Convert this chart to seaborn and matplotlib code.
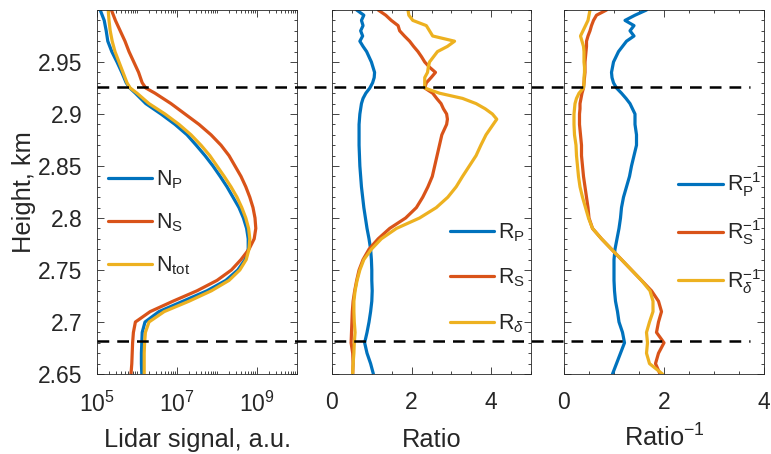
import numpy as np
import pandas as pd
import matplotlib
matplotlib.use("Agg")
import matplotlib.pyplot as plt
import matplotlib.transforms as mtransforms
from matplotlib.lines import Line2D
from matplotlib.ticker import FixedLocator, MultipleLocator, LogLocator, NullFormatter, FuncFormatter
import seaborn as sns

# ---------------- data ----------------
heights_signal = [3.00, 2.99, 2.98, 2.97, 2.96, 2.95, 2.94, 2.93, 2.925, 2.92, 2.91, 2.90,
                  2.89, 2.88, 2.87, 2.86, 2.85, 2.84, 2.83, 2.82, 2.81, 2.80, 2.79, 2.78,
                  2.77, 2.76, 2.75, 2.74, 2.73, 2.72, 2.71, 2.70, 2.69, 2.68, 2.67, 2.66, 2.65]
# log10 of lidar signal (a.u.)
NP_log10 = [5.08, 5.18, 5.23, 5.27, 5.37, 5.50, 5.62, 5.73, 5.82, 5.96, 6.22, 6.60,
            6.95, 7.25, 7.48, 7.70, 7.90, 8.08, 8.25, 8.40, 8.55, 8.66, 8.74, 8.78,
            8.78, 8.70, 8.52, 8.22, 7.75, 7.15, 6.55, 6.20, 6.13, 6.12, 6.11, 6.11, 6.12]
NS_log10 = [5.36, 5.46, 5.58, 5.70, 5.80, 5.92, 6.04, 6.13, 6.22, 6.45, 6.85, 7.20,
            7.55, 7.85, 8.10, 8.30, 8.45, 8.60, 8.72, 8.82, 8.90, 8.95, 8.97, 8.93,
            8.80, 8.60, 8.36, 8.00, 7.50, 6.90, 6.33, 5.96, 5.91, 5.89, 5.88, 5.87, 5.85]
Ntot_log10 = [5.28, 5.30, 5.33, 5.38, 5.45, 5.55, 5.65, 5.75, 5.83, 6.00, 6.30, 6.70,
              7.05, 7.35, 7.60, 7.82, 8.00, 8.18, 8.35, 8.50, 8.62, 8.72, 8.79, 8.82,
              8.80, 8.73, 8.57, 8.30, 7.86, 7.30, 6.68, 6.30, 6.21, 6.19, 6.18, 6.18, 6.18]

heights_ratio = [3.000, 2.995, 2.990, 2.985, 2.980, 2.975, 2.970, 2.965, 2.960, 2.955,
                 2.950, 2.945, 2.940, 2.935, 2.930, 2.925, 2.920, 2.915, 2.910, 2.905,
                 2.900, 2.895, 2.890, 2.88, 2.87, 2.86, 2.85, 2.84, 2.83, 2.82, 2.81,
                 2.80, 2.79, 2.78, 2.77, 2.76, 2.75, 2.74, 2.73, 2.72, 2.71, 2.70, 2.69,
                 2.68, 2.67, 2.66, 2.65]
R_P = [0.62, 0.80, 0.74, 0.78, 0.72, 0.77, 0.70, 0.78, 0.87, 0.93, 0.99, 1.03, 1.07,
       1.06, 1.02, 0.95, 0.85, 0.78, 0.74, 0.72, 0.70, 0.69, 0.68,
       0.68, 0.68, 0.69, 0.70, 0.72, 0.74, 0.77, 0.80, 0.84, 0.88, 0.93, 0.97, 0.99,
       1.00, 1.00, 1.01, 1.00, 0.97, 0.93, 0.88, 0.82, 0.88, 0.97, 1.04]
R_S = [1.16, 1.35, 1.49, 1.66, 1.70, 1.82, 1.95, 2.05, 2.16, 2.25, 2.33, 2.45, 2.60,
       2.49, 2.37, 2.33, 2.53, 2.63, 2.74, 2.80, 2.88, 2.90, 2.88,
       2.76, 2.70, 2.64, 2.58, 2.52, 2.41, 2.28, 2.12, 1.85, 1.45, 1.16, 0.93, 0.78,
       0.68, 0.62, 0.57, 0.53, 0.51, 0.50, 0.49, 0.48, 0.52, 0.53, 0.52]
R_delta = [1.91, 1.93, 2.03, 2.37, 2.45, 2.53, 3.08, 2.90, 2.65, 2.55, 2.45, 2.42, 2.40,
           2.33, 2.33, 2.33, 2.70, 3.28, 3.62, 3.85, 4.03, 4.14, 4.05,
           3.87, 3.74, 3.62, 3.45, 3.28, 3.12, 2.91, 2.62, 2.20, 1.62, 1.24, 0.99, 0.80,
           0.70, 0.63, 0.58, 0.55, 0.55, 0.56, 0.58, 0.56, 0.55, 0.53, 0.52]
R_P_inv = [1.65, 1.42, 1.22, 1.40, 1.32, 1.40, 1.25, 1.17, 1.09, 1.04, 0.99, 0.97, 0.95,
           0.96, 0.99, 1.05, 1.15, 1.24, 1.32, 1.37, 1.42, 1.42, 1.42,
           1.45, 1.45, 1.40, 1.35, 1.31, 1.25, 1.19, 1.15, 1.13, 1.10, 1.06, 1.02, 1.00,
           1.00, 1.00, 1.01, 1.03, 1.07, 1.10, 1.17, 1.21, 1.13, 1.05, 0.97]
R_S_inv = [0.85, 0.65, 0.59, 0.55, 0.52, 0.48, 0.45, 0.45, 0.44, 0.43, 0.42, 0.42, 0.42,
           0.41, 0.40, 0.39, 0.36, 0.34, 0.32, 0.32, 0.31, 0.31, 0.31,
           0.33, 0.35, 0.35, 0.37, 0.39, 0.42, 0.45, 0.48, 0.50, 0.57, 0.75, 0.95, 1.15,
           1.35, 1.55, 1.75, 1.89, 1.95, 1.89, 1.85, 2.00, 1.89, 1.83, 1.92]
R_delta_inv = [0.52, 0.50, 0.48, 0.43, 0.38, 0.33, 0.36, 0.39, 0.40, 0.40, 0.40, 0.41, 0.41,
               0.40, 0.40, 0.39, 0.30, 0.25, 0.22, 0.21, 0.20, 0.20, 0.20,
               0.21, 0.24, 0.25, 0.27, 0.29, 0.32, 0.37, 0.43, 0.49, 0.57, 0.75, 0.95, 1.15,
               1.35, 1.55, 1.72, 1.78, 1.78, 1.71, 1.65, 1.67, 1.65, 1.71, 1.97]

boundary_heights = [2.926, 2.682]

labels1 = [r"N$_\mathrm{P}$", r"N$_\mathrm{S}$", r"N$_\mathrm{tot}$"]
labels2 = [r"R$_\mathrm{P}$", r"R$_\mathrm{S}$", r"R$_{\delta}$"]
labels3 = [r"R$_\mathrm{P}^{-1}$", r"R$_\mathrm{S}^{-1}$", r"R$_{\delta}^{-1}$"]
yticks = [2.65, 2.70, 2.75, 2.80, 2.85, 2.90, 2.95]

colors = ["#0072BD", "#D95319", "#EDB120"]

# ---------------- style ----------------
sns.set_theme(style="ticks")
plt.rcParams["font.family"] = ["Liberation Sans", "DejaVu Sans"]
plt.rcParams.update({
    "mathtext.fontset": "custom",
    "mathtext.rm": "Liberation Sans",
    "mathtext.it": "Liberation Sans:italic",
    "mathtext.bf": "Liberation Sans:bold",
    "axes.edgecolor": "#262626",
    "axes.linewidth": 0.6,
    "xtick.color": "#262626",
    "ytick.color": "#262626",
    "text.color": "#262626",
    "axes.labelcolor": "#262626",
})
FS_TICK = 16.5
FS_LABEL = 18.3
FS_LEG = 15.5

fig = plt.figure(figsize=(7.71, 4.54), dpi=100)
W, H = 771.0, 454.0
bottom, top = 374, 10
def rect(l, r):
    return [l / W, 1 - bottom / H, (r - l) / W, (bottom - top) / H]
ax1 = fig.add_axes(rect(97, 297))
ax2 = fig.add_axes(rect(332, 531))
ax3 = fig.add_axes(rect(564, 764))

def long_df(heights, series, names):
    rows = []
    for vals, nm in zip(series, names):
        rows.append(pd.DataFrame({"height": heights, "value": vals, "series": nm}))
    return pd.concat(rows, ignore_index=True)

df1 = long_df(heights_signal, [10 ** np.array(NP_log10), 10 ** np.array(NS_log10),
                               10 ** np.array(Ntot_log10)], labels1)
df2 = long_df(heights_ratio, [R_P, R_S, R_delta], labels2)
df3 = long_df(heights_ratio, [R_P_inv, R_S_inv, R_delta_inv], labels3)

ax1.set_xscale("log")
LW = 2.3
for ax, df, labs in [(ax1, df1, labels1), (ax2, df2, labels2), (ax3, df3, labels3)]:
    sns.lineplot(data=df, x="value", y="height", hue="series", hue_order=labs,
                 palette=colors, orient="y", estimator=None, sort=False,
                 lw=LW, ax=ax, legend=False)

for ax in (ax1, ax2, ax3):
    ax.set_ylim(2.65, 3.0)
    ax.yaxis.set_major_locator(FixedLocator(yticks))
    ax.yaxis.set_minor_locator(MultipleLocator(0.01))
    ax.tick_params(which="both", direction="in", top=True, right=True,
                   labelsize=FS_TICK, width=0.6)
    ax.tick_params(axis="x", which="both", pad=12.5)
    ax.tick_params(axis="y", which="both", pad=10.5)
    ax.tick_params(which="major", length=5)
    ax.tick_params(which="minor", length=2.5)
    for s in ax.spines.values():
        s.set_visible(True)
    ax.set_ylabel("")

ax1.yaxis.set_major_formatter(FuncFormatter(lambda v, p: f"{v:g}"))
ax2.tick_params(labelleft=False)
ax3.tick_params(labelleft=False)

ax1.set_xlim(1e5, 1e10)
ax1.xaxis.set_major_locator(FixedLocator([1e5, 1e7, 1e9]))
ax1.xaxis.set_minor_locator(LogLocator(base=10, subs=np.arange(1, 10), numticks=20))
ax1.xaxis.set_minor_formatter(NullFormatter())

ax2.set_xlim(0, 5)
ax3.set_xlim(0, 4)
for ax in (ax2, ax3):
    ax.xaxis.set_major_locator(FixedLocator([0, 2, 4]))
    ax.xaxis.set_minor_locator(MultipleLocator(0.5))

ax_h = bottom - top
for ax, txt in [(ax1, "Lidar signal, a.u."), (ax2, "Ratio"), (ax3, r"Ratio$^{-1}$")]:
    ax.set_xlabel(txt, fontsize=FS_LABEL, va="baseline")
    ax.xaxis.set_label_coords(0.5, (bottom - 447) / ax_h)
ax1.set_ylabel("Height, km", fontsize=FS_LABEL, va="center")
ax1.yaxis.set_label_coords((24 - 97) / 200.0, 0.5)

# legends
def add_legend(ax, labs, anchor, spacing):
    handles = [Line2D([], [], color=c, lw=LW) for c in colors]
    ax.legend(handles, labs, loc="upper left", bbox_to_anchor=anchor, frameon=False,
              fontsize=FS_LEG, handlelength=2.05, handletextpad=0.2, labelspacing=spacing,
              borderpad=0, borderaxespad=0)

add_legend(ax1, labels1, (0.055, 0.565), 0.95)
add_legend(ax2, labels2, (0.593, 0.42), 1.07)
add_legend(ax3, labels3, (0.572, 0.56), 0.9)

# dashed boundary lines across all panels
trans = mtransforms.blended_transform_factory(fig.transFigure, ax1.transData)
for h in boundary_heights:
    ln = Line2D([97 / W, 750 / W], [h, h], transform=trans, color="black", lw=1.8,
                dashes=(4.7, 3.2), zorder=10, clip_on=False)
    fig.add_artist(ln)

fig.savefig("out.png", dpi=100)
